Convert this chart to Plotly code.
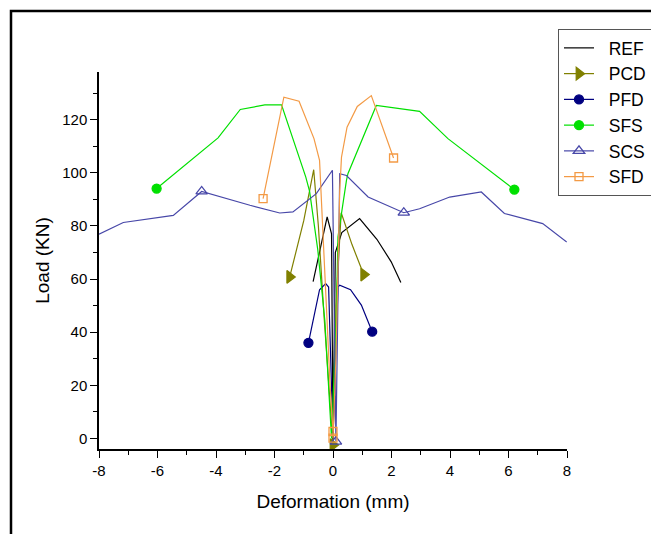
import plotly.graph_objects as go

# ---- data (Deformation mm, Load kN) ----
series_names = ["REF", "PCD", "PFD", "SFS", "SCS", "SFD"]

ref_x = [-0.68, -0.45, -0.20, -0.05, 0.00, 0.08, 0.30, 0.91, 1.50, 1.99, 2.32]
ref_y = [59.0, 71.0, 83.4, 77.0, 0.0, 70.0, 77.5, 82.8, 75.0, 66.5, 58.7]
ref_marks = []

pcd_x = [-1.48, -1.00, -0.66, -0.50, -0.30, 0.00, 0.10, 0.28, 0.65, 1.05]
pcd_y = [60.8, 82.0, 101.2, 80.0, 45.0, -2.5, 50.0, 85.0, 73.0, 61.7]
pcd_marks = [0, 5, 9]

pfd_x = [-0.84, -0.72, -0.46, -0.25, -0.15, 0.00, 0.17, 0.23, 0.60, 0.97, 1.34]
pfd_y = [36.0, 42.0, 56.0, 58.3, 57.0, 0.0, 57.0, 57.7, 56.0, 50.2, 40.2]
pfd_marks = [0, 10]

sfs_x = [-6.03, -3.93, -3.17, -2.33, -1.76, -0.93, -0.80, -0.52, -0.28, -0.05,
         0.11, 0.17, 0.46, 0.51, 1.48, 2.96, 3.93, 6.20]
sfs_y = [94.1, 113.2, 123.9, 125.6, 125.6, 98.4, 93.0, 71.0, 44.5, 0.0,
         44.5, 75.9, 97.2, 99.7, 125.4, 123.2, 112.9, 93.7]
sfs_marks = [0, 17]

scs_x = [-8.00, -7.17, -5.46, -4.49, -2.84, -1.82, -1.37, -0.57, -0.02, 0.10,
         0.23, 0.46, 1.20, 1.71, 2.42, 2.96, 3.99, 5.07, 5.86, 7.17, 7.99]
scs_y = [76.9, 81.3, 84.0, 93.0, 87.8, 84.9, 85.3, 92.2, 101.0, -1.2,
         99.7, 99.0, 90.9, 88.4, 85.0, 86.5, 90.9, 92.8, 84.7, 80.9, 74.0]
scs_marks = [3, 9, 14]

sfd_x = [-2.39, -1.68, -1.16, -0.65, -0.46, -0.28, -0.10, 0.00, 0.00, 0.10,
         0.23, 0.29, 0.48, 0.83, 1.31, 2.07]
sfd_y = [90.3, 128.5, 127.0, 112.9, 104.7, 59.6, 20.0, 2.6, 0.1, 30.0,
         93.4, 105.9, 117.2, 125.0, 129.1, 105.6]
sfd_marks = [0, 7, 8, 15]

x_ticks = [-8, -6, -4, -2, 0, 2, 4, 6, 8]
y_ticks = [0, 20, 40, 60, 80, 100, 120]

# ---- styles ----
FONT = "Arial, 'Liberation Sans', sans-serif"
styles = {
    "REF": dict(color="#000000", symbol=None, size=0),
    "PCD": dict(color="#808000", symbol="triangle-right", size=11),
    "PFD": dict(color="#000080", symbol="circle", size=9),
    "SFS": dict(color="#00E000", symbol="circle", size=9),
    "SCS": dict(color="#4747A8", symbol="triangle-up-open", size=10),
    "SFD": dict(color="#F39A45", symbol="square-open", size=8),
}
data = {
    "REF": (ref_x, ref_y, ref_marks),
    "PCD": (pcd_x, pcd_y, pcd_marks),
    "PFD": (pfd_x, pfd_y, pfd_marks),
    "SFS": (sfs_x, sfs_y, sfs_marks),
    "SCS": (scs_x, scs_y, scs_marks),
    "SFD": (sfd_x, sfd_y, sfd_marks),
}

fig = go.Figure()
for name in series_names:
    xs, ys, marks = data[name]
    st = styles[name]
    fig.add_trace(go.Scatter(x=xs, y=ys, mode="lines", showlegend=False,
                             line=dict(color=st["color"], width=1.2),
                             hoverinfo="skip"))
    if marks:
        fig.add_trace(go.Scatter(
            x=[xs[i] for i in marks], y=[ys[i] for i in marks], mode="markers",
            showlegend=False,
            marker=dict(symbol=st["symbol"], size=st["size"], color=st["color"],
                        line=dict(color=st["color"], width=1.3)),
            hoverinfo="skip"))

# legend entries
PAD = "\u00a0\u00a0"
for name in series_names:
    st = styles[name]
    if st["symbol"] is None:
        fig.add_trace(go.Scatter(x=[None], y=[None], mode="lines", name=PAD + name,
                                 line=dict(color=st["color"], width=1.2)))
    else:
        fig.add_trace(go.Scatter(x=[None], y=[None], mode="lines+markers",
                                 name=PAD + name,
                                 line=dict(color=st["color"], width=1.2),
                                 marker=dict(symbol=st["symbol"], size=st["size"],
                                             color=st["color"],
                                             line=dict(color=st["color"], width=1.3))))

L, R, T, B = 99, 84, 72, 85
W, H = 651, 534
pw, ph = W - L - R, H - T - B

def px_to_paper_x(px):
    return (px - L) / pw

def px_to_paper_y(py):
    return (H - B - py) / ph

fig.add_shape(type="rect", xref="paper", yref="paper",
              x0=px_to_paper_x(11), x1=px_to_paper_x(670),
              y0=px_to_paper_y(560), y1=px_to_paper_y(11),
              line=dict(color="black", width=2.5), fillcolor="rgba(0,0,0,0)",
              layer="below")

axis_common = dict(showline=True, linecolor="black", linewidth=1.5,
                   ticks="outside", ticklen=7, tickwidth=1.3, tickcolor="black",
                   showgrid=False, zeroline=False, mirror=False,
                   tickfont=dict(family=FONT, size=15, color="black"))

fig.update_xaxes(range=[-8, 8], tickvals=x_ticks,
                 ticktext=[str(v) for v in x_ticks],
                 minor=dict(dtick=1, tick0=0, ticks="outside", ticklen=4,
                            tickcolor="black", tickwidth=1.2),
                 title=dict(text="Deformation (mm)",
                            font=dict(family=FONT, size=19, color="black"),
                            standoff=17),
                 **axis_common)
fig.update_yaxes(range=[-4, 138], tickvals=y_ticks,
                 ticktext=[str(v) for v in y_ticks],
                 minor=dict(dtick=10, tick0=0, ticks="outside", ticklen=4,
                            tickcolor="black", tickwidth=1.2),
                 title=dict(text="Load (KN)",
                            font=dict(family=FONT, size=19, color="black"),
                            standoff=8),
                 **axis_common)

fig.update_layout(
    width=W, height=H,
    margin=dict(l=L, r=R, t=T, b=B, autoexpand=False),
    paper_bgcolor="white", plot_bgcolor="white",
    font=dict(family=FONT, color="black"),
    legend=dict(x=px_to_paper_x(558), y=px_to_paper_y(29),
                xanchor="left", yanchor="top",
                bgcolor="white", bordercolor="#555555", borderwidth=1,
                font=dict(family=FONT, size=17.5, color="black"),
                tracegroupgap=0, itemwidth=30),
)

fig.write_html("out.html")
